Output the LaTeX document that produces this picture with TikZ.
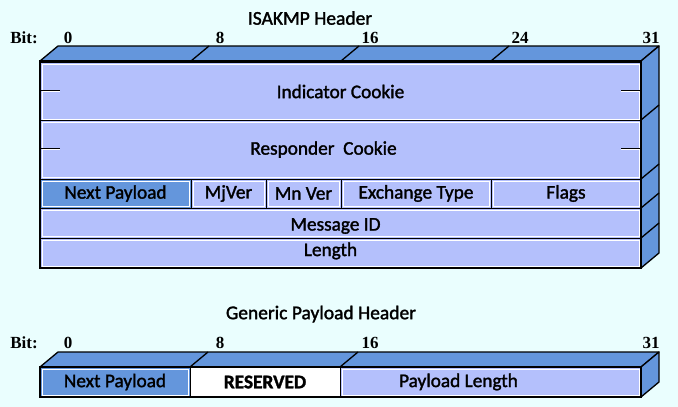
\documentclass[tikz,border=0pt]{standalone}
\usepackage{fontspec}
\setmainfont{Carlito}
\newfontfamily\lblfont{Carlito}[FakeBold=1.6]
\newfontfamily\bitfont{Liberation Serif}
\definecolor{bgcol}{RGB}{234,254,254}
\definecolor{frontcol}{RGB}{180,192,252}
\definecolor{sidecol}{RGB}{100,150,220}
\begin{document}
\begin{tikzpicture}[
  x=1pt, y=-1pt,
  every node/.style={inner sep=0pt, font=\lblfont\fontsize{19.3}{22}\selectfont},
  cell/.style={draw=black, line width=1pt, fill=frontcol,
    path picture={\draw[white, line width=1pt]
      ([shift={(2pt,-2pt)}]path picture bounding box.north west) rectangle
      ([shift={(-2pt,2pt)}]path picture bounding box.south east);}},
  face/.style={draw=black, fill=sidecol, line width=1.3pt, line join=round},
  bit/.style={font=\bitfont\bfseries\fontsize{17}{20}\selectfont},
  title/.style={font=\lblfont\fontsize{19.5}{23}\selectfont}
]
\fill[bgcol] (0,0) rectangle (678,407);
\useasboundingbox (0,0) rectangle (678,407);

% ISAKMP header
\node[title] (t1) at (310,18) {ISAKMP Header};
\node[bit] (b1) at (24,38) {Bit:};
\node[bit] (b1a) at (68,38) {0};
\node[bit] (b1b) at (220,38) {8};
\node[bit] (b1c) at (370,38) {16};
\node[bit] (b1d) at (520,38) {24};
\node[bit] (b1e) at (651,38) {31};

\draw[face] (40,61) -- (58,46) -- (659,46) -- (641,61) -- cycle;
\draw[face] (641,61) -- (659,46) -- (659,253) -- (641,268) -- cycle;
\foreach \x in {191,341,491}
  \draw[line width=1.3pt] (\x,61) -- ++(18,-15);
\foreach \y in {120,179,208,238}
  \draw[line width=1.3pt] (641,\y) -- ++(18,-15);

\node[cell, minimum width=601pt, minimum height=59pt] (ind) at (340.5,91.5) {Indicator Cookie};
\node[cell, minimum width=601pt, minimum height=59pt,
  label={[xshift=-17pt]center:Responder\ \ Cookie}] (resp) at (340.5,149.5) {};
\node[cell, fill=sidecol, minimum width=151pt, minimum height=29pt] (np) at (115.5,193.5) {Next Payload};
\node[cell, minimum width=75pt, minimum height=29pt] (mj) at (228.5,193.5) {MjVer};
\node[cell, minimum width=75pt, minimum height=29pt] (mn) at (303.5,193.5) {Mn Ver};
\node[cell, minimum width=150pt, minimum height=29pt] (xt) at (416,193.5) {Exchange Type};
\node[cell, minimum width=150pt, minimum height=29pt] (fl) at (566,193.5) {Flags};
\node[cell, minimum width=601pt, minimum height=30pt,
  label={[xshift=-5pt, yshift=-3pt]center:Message ID}] (mid) at (340.5,223) {};
\node[cell, minimum width=601pt, minimum height=30pt,
  label={[xshift=-10pt, yshift=2pt]center:Length}] (len) at (340.5,253) {};
\draw[line width=1.5pt] (40,61) rectangle (641,268);

% cookie marks
\foreach \y in {90,148}{
  \draw[line width=0.8pt] (41,\y) -- (60,\y);
  \draw[white, line width=1pt] (42,\y+1.3) -- (60,\y+1.3);
  \draw[line width=0.8pt] (621,\y) -- (640,\y);
  \draw[white, line width=1pt] (621,\y+1.3) -- (639,\y+1.3);
}

% generic payload header
\node[title] (t2) at (321,314) {Generic Payload Header};
\node[bit] (b2) at (24,343) {Bit:};
\node[bit] (b2a) at (68,343) {0};
\node[bit] (b2b) at (220,343) {8};
\node[bit] (b2c) at (370,343) {16};
\node[bit] (b2d) at (651,343) {31};

\draw[face] (40,367) -- (58,352) -- (659,352) -- (641,367) -- cycle;
\draw[face] (641,367) -- (659,352) -- (659,382) -- (641,397) -- cycle;
\foreach \x in {190,340}
  \draw[line width=1.3pt] (\x,367) -- ++(18,-15);

\node[cell, fill=sidecol, minimum width=150pt, minimum height=30pt] (gnp) at (115,382) {Next Payload};
\node[cell, fill=white, minimum width=150pt, minimum height=30pt] (gres) at (265,382) {\bfseries RESERVED};
\node[cell, minimum width=301pt, minimum height=30pt,
  label={[xshift=-32pt]center:Payload Length}] (glen) at (490.5,382) {};
\draw[line width=1.5pt] (40,367) rectangle (641,397);
\end{tikzpicture}
\end{document}
